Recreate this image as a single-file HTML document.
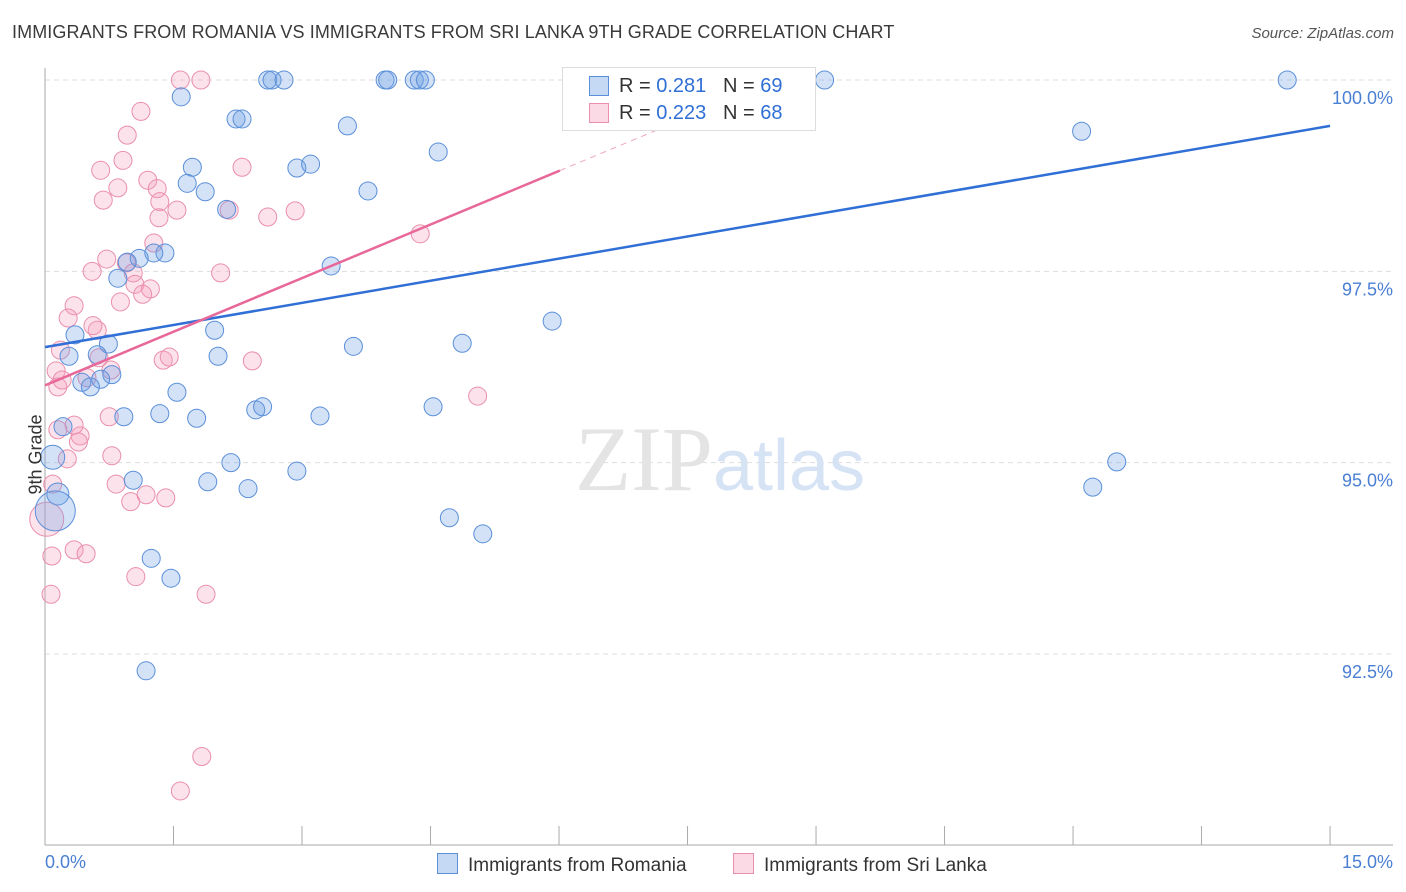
<!DOCTYPE html>
<html><head><meta charset="utf-8"><style>
body{margin:0;background:#fff;font-family:"Liberation Sans",sans-serif;}
#wrap{position:relative;width:1406px;height:892px;overflow:hidden}
.t{position:absolute;white-space:nowrap}
</style></head><body>
<div id="wrap">
<div class="t" style="left:12px;top:22px;font-size:18px;color:#3a3a3a;letter-spacing:0.1px">IMMIGRANTS FROM ROMANIA VS IMMIGRANTS FROM SRI LANKA 9TH GRADE CORRELATION CHART</div>
<div class="t" style="right:12px;top:25px;font-size:15px;color:#555;font-style:italic">Source: ZipAtlas.com</div>
<svg id="svg" width="1406" height="892" style="position:absolute;left:0;top:0"></svg>
</div>
<script>
const xTicks=[0,1.5,3,4.5,6,7.5,9,10.5,12,13.5,15];
const yTicks=[100,97.5,95,92.5];
const yTickLabels=["100.0%","97.5%","95.0%","92.5%"];
const romaniaX=[6.46,2.60,2.65,2.79,3.97,4.00,4.31,4.37,4.44,9.10,14.50,1.59,2.23,2.30,3.53,12.10,4.59,1.72,2.94,3.10,1.66,1.87,3.77,2.12,1.40,1.27,1.10,0.96,3.34,0.85,5.92,1.98,0.35,0.74,3.60,4.87,2.02,0.28,0.61,0.78,0.65,0.43,0.53,1.54,1.34,1.77,0.92,2.46,2.54,3.21,4.53,0.21,0.09,2.17,2.94,12.51,1.03,1.90,2.37,0.15,12.23,4.72,5.11,0.12,1.24,1.47,1.18];
const romaniaY=[100,100,100,100,100,100,100,100,100,100,100,99.78,99.49,99.49,99.40,99.33,99.06,98.86,98.85,98.90,98.65,98.54,98.55,98.31,97.74,97.74,97.67,97.62,97.57,97.41,96.85,96.73,96.67,96.55,96.52,96.56,96.39,96.39,96.41,96.15,96.09,96.05,95.99,95.92,95.64,95.58,95.60,95.69,95.73,95.61,95.73,95.47,95.07,95.00,94.89,95.01,94.77,94.75,94.66,94.59,94.68,94.28,94.07,94.37,93.75,93.49,92.28];
const romaniaR=[9,9,9,9,9,9,9,9,9,9,9,9,9,9,9,9,9,9,9,9,9,9,9,9,9,9,9,9,9,9,9,9,9,9,9,9,9,9,9,9,9,9,9,9,9,9,9,9,9,9,9,9,12,9,9,9,9,9,9,11,9,9,9,20,9,9,9];
const lankaX=[1.58,1.82,1.12,0.96,0.91,0.65,2.30,0.85,1.20,1.31,0.68,1.34,1.54,1.33,2.15,2.60,2.92,1.27,4.38,0.72,0.95,0.55,2.05,1.03,1.05,1.23,1.14,0.88,0.34,0.27,0.61,0.56,0.18,0.63,1.38,1.45,2.42,0.13,0.77,0.49,0.15,0.20,5.05,0.75,0.15,0.41,0.34,0.26,0.78,0.39,0.83,1.00,1.18,1.41,0.02,0.09,0.08,0.34,0.48,0.07,1.06,1.88,1.83,1.58];
const lankaY=[100,100,99.59,99.28,98.95,98.82,98.86,98.59,98.69,98.58,98.43,98.41,98.30,98.20,98.30,98.21,98.29,97.87,97.99,97.66,97.61,97.50,97.48,97.48,97.33,97.27,97.20,97.10,97.05,96.89,96.73,96.79,96.47,96.37,96.34,96.38,96.33,96.20,96.21,96.11,95.99,96.08,95.87,95.60,95.43,95.35,95.49,95.05,95.09,95.27,94.72,94.49,94.58,94.54,94.26,94.72,93.78,93.86,93.81,93.28,93.51,93.28,91.16,90.71];
const romaniaTrend=[96.51,99.40]; // y at x=0 and x=15
const lankaTrend=[96.01,0.467]; // intercept, slope per %
const X=v=>45+v*85.67, Y=v=>80+(100-v)*76.53;
const svg=document.getElementById('svg');const NS='http://www.w3.org/2000/svg';
function mk(t,a){const e=document.createElementNS(NS,t);for(const k in a)e.setAttribute(k,a[k]);svg.appendChild(e);return e;}
yTicks.forEach((v,i)=>{const l=mk('line',{x1:45,x2:1393,y1:Y(v),y2:Y(v),stroke:'#ddd','stroke-dasharray':'5,4'});


const t=mk('text',{x:1393,y:Y(v)+24,'text-anchor':'end','font-size':18,fill:'#4a7fd4','font-family':'Liberation Sans'});t.textContent=yTickLabels[i];

});
let a=mk('line',{x1:45,x2:45,y1:68,y2:845,stroke:'#aaa'});
a=mk('line',{x1:45,x2:1393,y1:845,y2:845,stroke:'#aaa'});
xTicks.forEach(v=>{const l=mk('line',{x1:X(v),x2:X(v),y1:826,y2:845,stroke:'#aaa'});

});
const wm=mk('text',{x:720,y:490,'text-anchor':'middle','font-size':92,fill:'#e4e4e4','font-family':'Liberation Serif'});wm.innerHTML='ZIP<tspan fill="#d6e3f5" font-family="Liberation Sans" font-size="72">atlas</tspan>';


lankaX.forEach((x,i)=>{const c=mk('circle',{cx:X(x),cy:Y(lankaY[i]),r:i==54?17:9,fill:'rgba(244,160,190,0.3)',stroke:'#ea8fac','stroke-width':1});

});
romaniaX.forEach((x,i)=>{const c=mk('circle',{cx:X(x),cy:Y(romaniaY[i]),r:romaniaR[i],fill:'rgba(110,160,230,0.3)',stroke:'#5b8fd9','stroke-width':1});

});
let tl=mk('line',{x1:X(0),y1:Y(romaniaTrend[0]),x2:X(15),y2:Y(romaniaTrend[1]),stroke:'#2f6fd6','stroke-width':2.5});

tl=mk('line',{x1:X(0),y1:Y(lankaTrend[0]),x2:X(6.01),y2:Y(lankaTrend[0]+lankaTrend[1]*6.01),stroke:'#e8689a','stroke-width':2.5});

tl=mk('line',{x1:X(6.01),y1:Y(lankaTrend[0]+lankaTrend[1]*6.01),x2:X(8.5),y2:Y(lankaTrend[0]+lankaTrend[1]*8.5),stroke:'#efa6c0','stroke-width':1,'stroke-dasharray':'6,5'});

</script>
<div class="t" style="left:-4px;top:444px;font-size:18px;color:#333;transform:rotate(-90deg)">9th Grade</div>
<div class="t" style="left:45px;top:852px;font-size:18px;color:#4a7fd4">0.0%</div>
<div class="t" style="right:13px;top:852px;font-size:18px;color:#4a7fd4">15.0%</div>
<div style="position:absolute;left:562px;top:67px;width:252px;height:62px;border:1px solid #ddd;background:#fff;font-size:20px">
<div style="position:absolute;left:26px;top:8px;width:18px;height:18px;background:rgba(110,160,230,0.4);border:1px solid #5b8fd9"></div>
<div class="t" style="left:56px;top:7px;color:#333">R = <span style="color:#2f6fd6">0.281</span>&nbsp;&nbsp;&nbsp;N = <span style="color:#2f6fd6">69</span></div>
<div style="position:absolute;left:26px;top:35px;width:18px;height:18px;background:rgba(244,160,190,0.4);border:1px solid #ea8fac"></div>
<div class="t" style="left:56px;top:34px;color:#333">R = <span style="color:#2f6fd6">0.223</span>&nbsp;&nbsp;&nbsp;N = <span style="color:#2f6fd6">68</span></div>
</div>
<div style="position:absolute;left:437px;top:853px;font-size:19px;color:#333">
<span style="display:inline-block;width:19px;height:19px;background:rgba(110,160,230,0.4);border:1px solid #5b8fd9;vertical-align:-3px;margin-right:10px"></span>Immigrants from Romania</div>
<div style="position:absolute;left:733px;top:853px;font-size:19px;color:#333">
<span style="display:inline-block;width:19px;height:19px;background:rgba(244,160,190,0.4);border:1px solid #ea8fac;vertical-align:-3px;margin-right:10px"></span>Immigrants from Sri Lanka</div>
</body></html>
